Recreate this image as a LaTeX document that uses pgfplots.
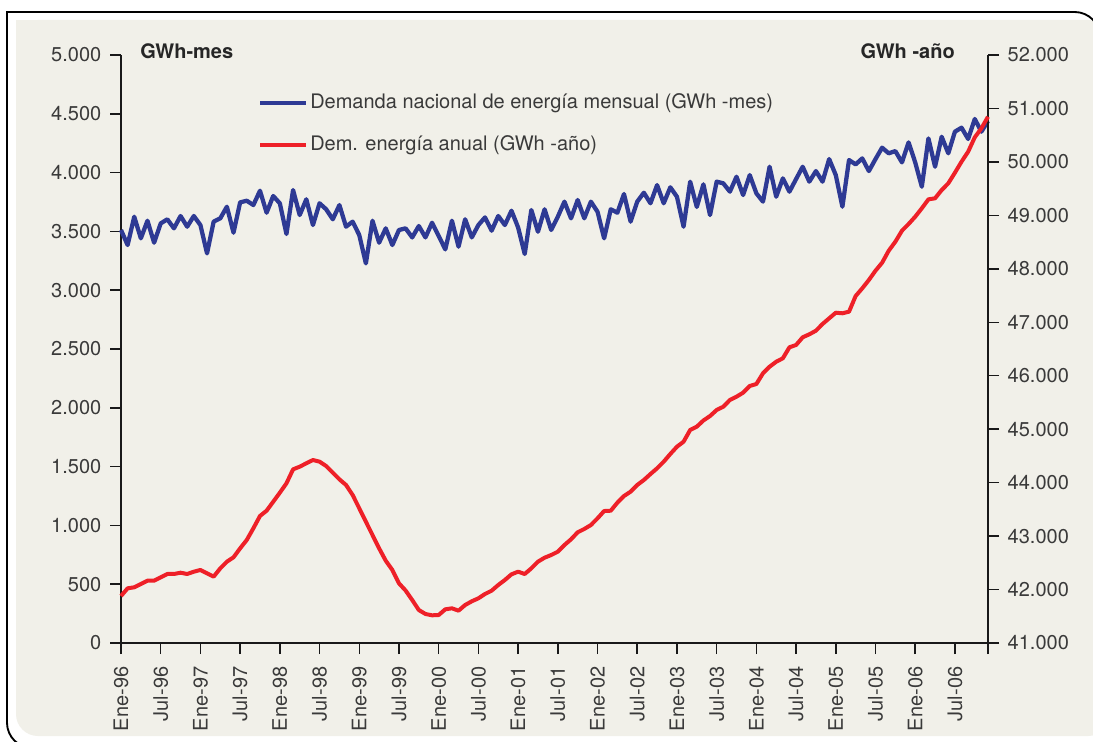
\documentclass[border=0pt]{standalone}
\usepackage{fontspec}
\setmainfont{TeX Gyre Heros}
\usepackage{pgfplots}
\pgfplotsset{compat=1.18}
\usepackage{pgfplotstable}

\definecolor{bgc}{HTML}{F1F0E9}
\definecolor{monc}{HTML}{2E3A94}
\definecolor{anuc}{HTML}{EE2028}
\definecolor{txtc}{HTML}{3A3A3A}

% month index (0 = Ene-96), GWh-mes
\pgfplotstableread{
m v
0 3512
1 3384
2 3625
3 3441
4 3591
5 3404
6 3568
7 3603
8 3526
9 3631
10 3540
11 3631
12 3554
13 3313
14 3583
15 3611
16 3710
17 3489
18 3747
19 3761
20 3724
21 3846
22 3659
23 3801
24 3739
25 3478
26 3852
27 3639
28 3773
29 3554
30 3739
31 3688
32 3603
33 3724
34 3540
35 3583
36 3469
37 3228
38 3591
39 3404
40 3526
41 3384
42 3512
43 3526
44 3449
45 3546
46 3449
47 3574
48 3461
49 3347
50 3591
51 3370
52 3603
53 3449
54 3554
55 3619
56 3506
57 3631
58 3554
59 3676
60 3534
61 3308
62 3682
63 3497
64 3688
65 3512
66 3625
67 3753
68 3611
69 3767
70 3611
71 3753
72 3667
73 3441
74 3688
75 3659
76 3818
77 3583
78 3753
79 3829
80 3739
81 3894
82 3739
83 3875
84 3795
85 3540
86 3923
87 3708
88 3900
89 3639
90 3923
91 3909
92 3838
93 3965
94 3809
95 3979
96 3824
97 3753
98 4050
99 3795
100 3951
101 3838
102 3945
103 4050
104 3923
105 4013
106 3923
107 4115
108 3979
109 3710
110 4107
111 4070
112 4121
113 4013
114 4115
115 4212
116 4164
117 4183
118 4087
119 4257
120 4087
121 3880
122 4291
123 4050
124 4305
125 4164
126 4348
127 4382
128 4286
129 4456
130 4348
131 4439
}\mensual

% month index, GWh-año (rolling 12 months)
\pgfplotstableread{
m v
0 41879
1 42023
2 42042
3 42104
4 42166
5 42166
6 42229
7 42291
8 42291
9 42315
10 42291
11 42334
12 42366
13 42304
14 42241
15 42397
16 42521
17 42603
18 42771
19 42927
20 43146
21 43376
22 43475
23 43643
24 43812
25 43987
26 44249
27 44298
28 44362
29 44423
30 44392
31 44311
32 44186
33 44062
34 43956
35 43769
36 43520
37 43269
38 43020
39 42771
40 42540
41 42366
42 42116
43 41982
44 41804
45 41617
46 41543
47 41518
48 41524
49 41630
50 41649
51 41605
52 41711
53 41780
54 41836
55 41917
56 41979
57 42085
58 42179
59 42285
60 42334
61 42291
62 42397
63 42521
64 42596
65 42646
66 42708
67 42833
68 42940
69 43071
70 43133
71 43207
72 43332
73 43469
74 43475
75 43625
76 43750
77 43831
78 43956
79 44049
80 44161
81 44268
82 44392
83 44536
84 44672
85 44766
86 44985
87 45047
88 45163
89 45246
90 45359
91 45420
92 45546
93 45608
94 45683
95 45808
96 45845
97 46045
98 46169
99 46262
100 46326
101 46532
102 46575
103 46719
104 46775
105 46842
106 46968
107 47074
108 47179
109 47168
110 47198
111 47491
112 47635
113 47791
114 47965
115 48114
116 48339
117 48507
118 48713
119 48838
120 48975
121 49132
122 49300
123 49319
124 49474
125 49599
126 49798
127 50004
128 50191
129 50460
130 50628
131 50845
}\anual

\pgfplotsset{
  common/.style={
    at={(90.75pt,-482.25pt)}, anchor=south west,
    scale only axis, width=650.25pt, height=441pt,
    xmin=0, xmax=131, enlargelimits=false,
    tick align=outside, major tick length=8.25pt,
    axis line style={line width=1.1pt, black!90},
    tick style={line width=1.1pt, black!90},
    tick label style={font=\fontsize{15}{18}\selectfont, text=txtc},
    scaled y ticks=false,
    clip=false,
  },
}

\begin{document}
\begin{tikzpicture}
\useasboundingbox (0,0) rectangle (819.75pt,-556.5pt);
\begin{scope}[x=0.75pt,y=-0.75pt]
  \clip (0,0) rectangle (1093,742);
  \fill[white] (0,0) rectangle (1093,742);
  \fill[bgc, rounded corners=16.5pt] (16,20) rectangle (1110,736);
  \fill[bgc] (16,20) rectangle (80,80);
  \draw[line width=1.4pt, rounded corners=19pt] (7,400) -- (7,748) -- (200,748);
  \draw[line width=1.4pt] (7,401) -- (7,12) -- (601,12);
  \draw[line width=1.4pt, rounded corners=19pt] (600,12) -- (1100,12) -- (1100,300);
\end{scope}

\begin{axis}[common,
  ymin=0, ymax=5000,
  axis x line*=bottom, axis y line*=left,
  xtick={0,6,...,126,131},
  xticklabels={Ene-96,Jul-96,Ene-97,Jul-97,Ene-98,Jul-98,Ene-99,Jul-99,Ene-00,Jul-00,Ene-01,Jul-01,Ene-02,Jul-02,Ene-03,Jul-03,Ene-04,Jul-04,Ene-05,Jul-05,Ene-06,Jul-06,{}},
  xticklabel style={rotate=90, anchor=east, xshift=-6pt},
  ytick={0,500,...,5000},
  yticklabels={0,500,1.000,1.500,2.000,2.500,3.000,3.500,4.000,4.500,5.000},
  yticklabel style={xshift=-3pt},
]
  \addplot[monc, line width=3.2pt, line join=round] table[x=m, y=v] {\mensual};
\end{axis}

\begin{axis}[common,
  ymin=41000, ymax=52000,
  axis x line=none, axis y line*=right,
  ytick={41000,42000,...,52000},
  yticklabels={41.000,42.000,43.000,44.000,45.000,46.000,47.000,48.000,49.000,50.000,51.000,52.000},
  yticklabel style={xshift=3pt},
]
  \addplot[anuc, line width=3pt, line join=round] table[x=m, y=v] {\anual};
\end{axis}

\begin{scope}[x=0.75pt,y=-0.75pt, font=\fontsize{15}{18}\selectfont]
  \draw[monc, line width=3.4pt] (260,103) -- (306,103);
  \node[anchor=west, inner sep=0pt, text=txtc] at (310,103) {Demanda nacional de energía mensual (GWh -mes)};
  \draw[anuc, line width=3.4pt] (260,145) -- (306,145);
  \node[anchor=west, inner sep=0pt, text=txtc] at (310,145) {Dem. energía anual (GWh -año)};
  \node[anchor=west, inner sep=0pt, font=\fontsize{15}{18}\selectfont\bfseries, text=black!85] at (140,51) {GWh-mes};
  \node[anchor=east, inner sep=0pt, font=\fontsize{15}{18}\selectfont\bfseries, text=black!85] at (955,51) {GWh -año};
\end{scope}
\end{tikzpicture}
\end{document}
